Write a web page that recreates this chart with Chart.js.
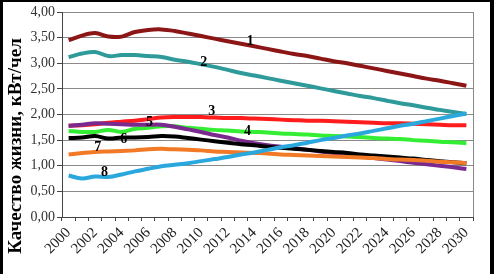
<!DOCTYPE html>
<html>
<head>
<meta charset="utf-8">
<script src="https://cdn.jsdelivr.net/npm/chart.js@4/dist/chart.umd.min.js"></script>
<style>
  html, body { margin: 0; padding: 0; background: #fff; }
  #wrap { width: 494px; height: 274px; position: relative; }
</style>
</head>
<body>
<div id="wrap"><canvas id="qualityChart"></canvas></div>
<script>
const years = [];
for (let y = 2000; y <= 2030; y++) years.push(String(y));

const yTicks = [0, 0.5, 1, 1.5, 2, 2.5, 3, 3.5, 4];

const s1 = [3.45, 3.54, 3.59, 3.52, 3.52, 3.61, 3.65, 3.66, 3.63, 3.58, 3.53, 3.48, 3.43, 3.38, 3.33, 3.28, 3.23, 3.18, 3.14, 3.09, 3.04, 3.00, 2.95, 2.90, 2.85, 2.80, 2.75, 2.70, 2.66, 2.61, 2.56];
const s2 = [3.12, 3.19, 3.22, 3.14, 3.16, 3.16, 3.14, 3.12, 3.07, 3.03, 2.98, 2.93, 2.87, 2.81, 2.76, 2.71, 2.66, 2.61, 2.56, 2.51, 2.46, 2.41, 2.36, 2.32, 2.27, 2.22, 2.18, 2.13, 2.09, 2.05, 2.01];
const s3 = [1.78, 1.79, 1.81, 1.84, 1.86, 1.88, 1.91, 1.94, 1.95, 1.95, 1.95, 1.94, 1.93, 1.93, 1.92, 1.91, 1.90, 1.89, 1.88, 1.88, 1.87, 1.86, 1.85, 1.84, 1.83, 1.83, 1.82, 1.81, 1.80, 1.79, 1.79];
const s4 = [1.68, 1.66, 1.66, 1.70, 1.66, 1.72, 1.74, 1.77, 1.77, 1.74, 1.72, 1.70, 1.69, 1.67, 1.66, 1.65, 1.63, 1.62, 1.61, 1.59, 1.58, 1.57, 1.56, 1.54, 1.53, 1.52, 1.50, 1.49, 1.47, 1.46, 1.44];
const s5 = [1.78, 1.80, 1.83, 1.82, 1.81, 1.80, 1.80, 1.80, 1.76, 1.71, 1.66, 1.60, 1.55, 1.49, 1.44, 1.40, 1.37, 1.34, 1.31, 1.28, 1.25, 1.22, 1.18, 1.15, 1.12, 1.09, 1.06, 1.03, 1.00, 0.97, 0.935];
const s6 = [1.54, 1.55, 1.58, 1.53, 1.55, 1.55, 1.56, 1.58, 1.57, 1.54, 1.51, 1.48, 1.45, 1.42, 1.40, 1.37, 1.35, 1.33, 1.31, 1.29, 1.27, 1.25, 1.22, 1.20, 1.18, 1.16, 1.14, 1.11, 1.09, 1.07, 1.05];
const s7 = [1.22, 1.25, 1.27, 1.28, 1.29, 1.30, 1.32, 1.33, 1.32, 1.31, 1.30, 1.28, 1.27, 1.26, 1.25, 1.24, 1.22, 1.21, 1.20, 1.19, 1.18, 1.17, 1.16, 1.15, 1.13, 1.12, 1.11, 1.10, 1.08, 1.07, 1.05];
const s8 = [0.81, 0.75, 0.79, 0.78, 0.83, 0.89, 0.94, 0.99, 1.02, 1.05, 1.09, 1.13, 1.17, 1.22, 1.26, 1.31, 1.36, 1.40, 1.45, 1.50, 1.54, 1.59, 1.63, 1.68, 1.73, 1.78, 1.82, 1.87, 1.92, 1.97, 2.02];

const seriesNames = ['1', '2', '3', '4', '5', '6', '7', '8'];
const seriesColors = ['#8c1616', '#2f9a9a', '#ff1c1c', '#33ee33', '#7a2a8e', '#000000', '#f27a26', '#2aa8de'];

// number labels on the lines: [year index, value, text]
const lineLabels = [
    [13.7, 3.43, '1'],
    [10.2, 3.02, '2'],
    [10.8, 2.06, '3'],
    [13.5, 1.67, '4'],
    [6.1, 1.84, '5'],
    [4.15, 1.51, '6'],
    [2.2, 1.35, '7'],
    [2.7, 0.88, '8']
];

const yTitle = 'Качество жизни, кВт/чел';

const allSeries = [s1, s2, s3, s4, s5, s6, s7, s8];

const serif = '"Liberation Serif", "Times New Roman", "DejaVu Serif", serif';
const fmt = v => v.toFixed(2).replace('.', ',');

const framePlugin = {
    id: 'frame',
    beforeDraw(chart) {
        const c = chart.ctx;
        c.save();
        c.fillStyle = '#fff';
        c.fillRect(0, 0, chart.width, chart.height);
        c.restore();
    },
    beforeDatasetsDraw(chart) {
        const a = chart.chartArea;
        const c = chart.ctx;
        c.save();
        c.strokeStyle = '#8a8a8a';
        c.lineWidth = 1;
        c.beginPath();
        c.moveTo(Math.round(a.right) + 0.5, a.top);
        c.lineTo(Math.round(a.right) + 0.5, a.bottom);
        c.stroke();
        c.restore();
    },
    afterDatasetsDraw(chart) {
        const c = chart.ctx;
        const xs = chart.scales.x, ys = chart.scales.y;
        c.save();
        c.fillStyle = '#000';
        c.font = 'bold 14px ' + serif;
        c.textAlign = 'center';
        c.textBaseline = 'middle';
        lineLabels.forEach(l => {
            c.fillText(l[2], xs.getPixelForValue(l[0]), ys.getPixelForValue(l[1]));
        });
        c.restore();
    },
    afterDraw(chart) {
        const c = chart.ctx;
        c.save();
        // y axis title
        c.translate(16, 146);
        c.rotate(-Math.PI / 2);
        c.fillStyle = '#000';
        c.font = 'bold 19px ' + serif;
        c.textAlign = 'center';
        c.textBaseline = 'middle';
        c.fillText(yTitle, 0, 0);
        c.restore();
        // outer black frame
        c.save();
        c.fillStyle = '#000';
        c.fillRect(0, 0, chart.width, 2);
        c.fillRect(0, 0, 3, chart.height);
        c.fillRect(chart.width - 4, 0, 4, chart.height);
        c.restore();
    }
};

const ctx = document.getElementById('qualityChart').getContext('2d');
new Chart(ctx, {
    type: 'line',
    data: {
        labels: years,
        datasets: allSeries.map((d, i) => ({
            label: seriesNames[i],
            data: d,
            borderColor: seriesColors[i],
            backgroundColor: seriesColors[i],
            borderWidth: 4,
            pointRadius: 0,
            tension: 0.35,
            fill: false,
            order: 8 - i
        }))
    },
    options: {
        responsive: true,
        maintainAspectRatio: false,
        animation: false,
        layout: {
            padding: { top: 12, right: 21, left: 0, bottom: 0 }
        },
        plugins: {
            legend: { display: false },
            tooltip: { enabled: false }
        },
        scales: {
            x: {
                offset: true,
                grid: {
                    drawOnChartArea: false,
                    drawTicks: true,
                    tickLength: 4,
                    tickColor: '#444',
                    offset: true
                },
                border: { color: '#444', width: 1 },
                ticks: {
                    autoSkip: false,
                    maxRotation: 45,
                    minRotation: 45,
                    padding: 3,
                    color: '#222',
                    font: { family: serif, size: 15 },
                    callback: function (v, i) { return i % 2 === 0 ? years[i] : ''; }
                },
                afterFit(scale) { scale.height = 57; }
            },
            y: {
                min: 0,
                max: 4,
                afterBuildTicks(scale) { scale.ticks = yTicks.map(v => ({ value: v })); },
                grid: {
                    color: '#8a8a8a',
                    lineWidth: 1,
                    tickLength: 5,
                    tickColor: '#444'
                },
                border: { color: '#444', width: 1 },
                ticks: {
                    padding: 2,
                    color: '#333',
                    font: { family: serif, size: 14 },
                    callback: v => fmt(v)
                },
                afterFit(scale) { scale.width = 62; }
            }
        }
    },
    plugins: [framePlugin]
});
</script>
</body>
</html>
